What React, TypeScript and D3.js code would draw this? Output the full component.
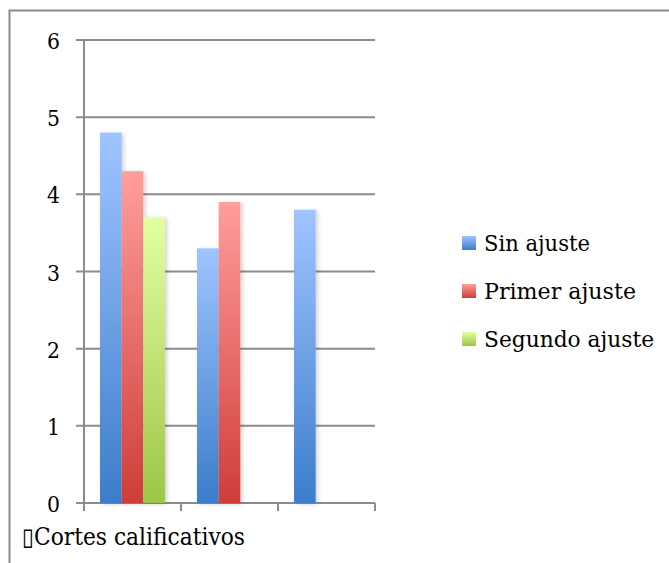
import React, { useEffect, useRef } from 'react';
import * as d3 from 'd3';

const categories = ['A', 'B', 'C'];
const seriesNames = ['Sin ajuste', 'Primer ajuste', 'Segundo ajuste'];
const sinAjuste = [4.8, 3.3, 3.8];
const primerAjuste = [4.3, 3.9, null];
const segundoAjuste = [3.7, null, null];
const yTicks = [0, 1, 2, 3, 4, 5, 6];
const axisTitle = '\u25AFCortes calificativos';

const palettes = [
  { top: '#9fc4ff', bottom: '#3c7dcb' },
  { top: '#ff9e9b', bottom: '#cf3d3a' },
  { top: '#e2ffa2', bottom: '#9dc646' },
];

export default function App() {
  const svgRef = useRef<SVGSVGElement>(null);

  useEffect(() => {
    if (!svgRef.current) return;
    const width = 669;
    const height = 563;
    const left = 84;
    const right = 375;
    const top = 40;
    const bottom = 503;
    const font = 'DejaVu Serif';

    const svg = d3.select(svgRef.current);
    svg.selectAll('*').remove();
    svg.attr('width', width).attr('height', height);

    const defs = svg.append('defs');
    palettes.forEach((p, i) => {
      const g = defs.append('linearGradient')
        .attr('id', `grad${i}`)
        .attr('x1', 0).attr('y1', 0).attr('x2', 0).attr('y2', 1);
      g.append('stop').attr('offset', '0%').attr('stop-color', p.top);
      g.append('stop').attr('offset', '100%').attr('stop-color', p.bottom);
    });
    const filter = defs.append('filter').attr('id', 'shadow')
      .attr('x', '-30%').attr('y', '-10%').attr('width', '160%').attr('height', '120%');
    filter.append('feDropShadow')
      .attr('dx', 2).attr('dy', 1).attr('stdDeviation', 2)
      .attr('flood-color', '#000').attr('flood-opacity', 0.18);

    // outer chart frame
    svg.append('rect')
      .attr('x', 9.5).attr('y', 10.5)
      .attr('width', 700).attr('height', 600)
      .attr('fill', 'none').attr('stroke', '#8a8a8a').attr('stroke-width', 2);

    const x = d3.scaleBand<string>().domain(categories).range([left, right]).padding(0);
    const xInner = d3.scaleBand<string>().domain(seriesNames)
      .range([0, x.bandwidth()]).paddingInner(0).paddingOuter(0.74);
    const y = d3.scaleLinear().domain([0, 6]).range([bottom, top]);

    // gridlines
    svg.append('g').selectAll('line').data(yTicks).join('line')
      .attr('x1', left - 8).attr('x2', right)
      .attr('y1', d => y(d)).attr('y2', d => y(d))
      .attr('stroke', '#8c8c8c').attr('stroke-width', 2);

    // y axis line
    svg.append('line')
      .attr('x1', left).attr('x2', left).attr('y1', top).attr('y2', bottom + 8)
      .attr('stroke', '#8c8c8c').attr('stroke-width', 2);

    // x ticks
    const xTickPos = [...categories.map(c => x(c) as number), right];
    svg.append('g').selectAll('line').data(xTickPos).join('line')
      .attr('x1', d => d).attr('x2', d => d)
      .attr('y1', bottom).attr('y2', bottom + 8)
      .attr('stroke', '#8c8c8c').attr('stroke-width', 2);

    // y labels
    svg.append('g').selectAll('text').data(yTicks).join('text')
      .attr('x', 60).attr('y', d => y(d) + 9)
      .attr('text-anchor', 'end')
      .attr('font-family', font).attr('font-size', 23)
      .attr('textLength', 13)
      .attr('lengthAdjust', 'spacingAndGlyphs')
      .attr('fill', '#000')
      .text(d => d);

    const allSeries = [sinAjuste, primerAjuste, segundoAjuste];
    allSeries.forEach((vals, si) => {
      const data = categories.map((c, ci) => ({ c, v: vals[ci] })).filter(d => d.v != null);
      svg.append('g').selectAll('rect').data(data).join('rect')
        .attr('x', d => (x(d.c) as number) + (xInner(seriesNames[si]) as number))
        .attr('width', xInner.bandwidth())
        .attr('y', d => y(d.v as number))
        .attr('height', d => bottom - y(d.v as number))
        .attr('fill', `url(#grad${si})`)
        .attr('filter', 'url(#shadow)');
    });

    // x axis title
    svg.append('text')
      .attr('x', 22).attr('y', 545)
      .attr('font-family', font).attr('font-size', 24)
      .attr('textLength', 223)
      .attr('lengthAdjust', 'spacingAndGlyphs')
      .attr('fill', '#000')
      .text(axisTitle);

    // legend
    const legend = svg.append('g');
    const legendWidths = [106, 152, 170];
    seriesNames.forEach((name, i) => {
      const cy = 243 + i * 48;
      legend.append('rect')
        .attr('x', 462).attr('y', cy - 7).attr('width', 14).attr('height', 14)
        .attr('fill', `url(#grad${i})`);
      legend.append('text')
        .attr('x', 484).attr('y', cy + 8)
        .attr('font-family', font).attr('font-size', 23)
        .attr('textLength', legendWidths[i])
        .attr('lengthAdjust', 'spacingAndGlyphs')
        .attr('fill', '#000')
        .text(name);
    });
  }, []);

  return (
    <svg ref={svgRef} style={{ position: 'absolute', left: 0, top: 0, background: '#fff' }}></svg>
  );
}
